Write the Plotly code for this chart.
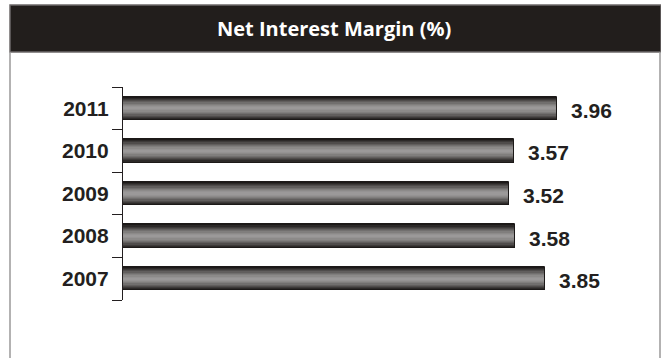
import plotly.graph_objects as go

# Net interest margin by year (%)
years = ["2007", "2008", "2009", "2010", "2011"]
nim = [3.85, 3.58, 3.52, 3.57, 3.96]
value_labels = ["3.85", "3.58", "3.52", "3.57", "3.96"]

W, H = 661, 358
INK = "#231f20"

# Shaded bar: overlaid layers, darkest/widest first, lightest/narrowest last
shade_widths = [0.55, 0.50, 0.45, 0.40, 0.34, 0.28, 0.22, 0.16, 0.10, 0.05]
shade_colors = ["#1c1918", "#2c2928", "#3d3a39", "#4f4c4b", "#615e5d",
                "#716f6e", "#807e7d", "#8c8a89", "#959393", "#9b9999"]

fig = go.Figure()
for w, c in zip(shade_widths, shade_colors):
    fig.add_trace(go.Bar(
        x=nim, y=years, orientation="h", width=w,
        marker=dict(color=c, line=dict(width=0)),
        hoverinfo="skip", showlegend=False,
    ))

# Dark outline cap on each bar
fig.add_trace(go.Bar(
    x=nim, y=years, orientation="h", width=0.55,
    marker=dict(color="rgba(0,0,0,0)", line=dict(width=1, color="#1c1918")),
    hoverinfo="skip", showlegend=False,
))

# Value labels (category index positions on the y axis)
for i, (v, lab) in enumerate(zip(nim, value_labels)):
    fig.add_annotation(
        x=v, y=i, xref="x", yref="y", text=lab, showarrow=False,
        xanchor="left", yanchor="middle", xshift=12, yshift=-2,
        font=dict(family="Liberation Sans, Arial, sans-serif", size=21, color=INK, weight="bold"),
    )

# Header band
fig.add_shape(type="rect", xref="paper", yref="paper",
              x0=10 / W, x1=1.0, y0=1 - 52 / H, y1=1 - 5 / H,
              fillcolor="#221e1c", line=dict(color="#6e6a69", width=1.5), layer="below")
fig.add_annotation(
    xref="paper", yref="paper", x=334 / W, y=1 - 28.5 / H,
    text="Net Interest Margin (%)", showarrow=False,
    xanchor="center", yanchor="middle",
    font=dict(family="Open Sans, Noto Sans, sans-serif", size=20, color="white", weight="bold"),
)

# Panel frame below the header
for xp in (10 / W, 660 / W):
    fig.add_shape(type="line", xref="paper", yref="paper",
                  x0=xp, x1=xp, y0=0, y1=1 - 52 / H,
                  line=dict(color="#9a9898", width=1.5))

fig.update_layout(
    width=W, height=H,
    margin=dict(l=0, r=0, t=0, b=0),
    paper_bgcolor="white", plot_bgcolor="white",
    barmode="overlay", bargap=0,
    xaxis=dict(domain=[123 / W, 660 / W], range=[0, 4.9], visible=False, fixedrange=True),
    yaxis=dict(
        domain=[1 - 300 / H, 1 - 87 / H],
        type="category", categoryorder="array", categoryarray=years,
        range=[-0.5, 4.5],
        showline=True, linecolor=INK, linewidth=1.2,
        ticks="outside", ticklen=10, tickwidth=1.2, tickcolor=INK,
        tickson="boundaries", showgrid=False, zeroline=False,
        tickfont=dict(family="Liberation Sans, Arial, sans-serif", size=21, color=INK, weight="bold"),
        ticklabelstandoff=9, fixedrange=True,
    ),
)

fig.write_html("out.html")
